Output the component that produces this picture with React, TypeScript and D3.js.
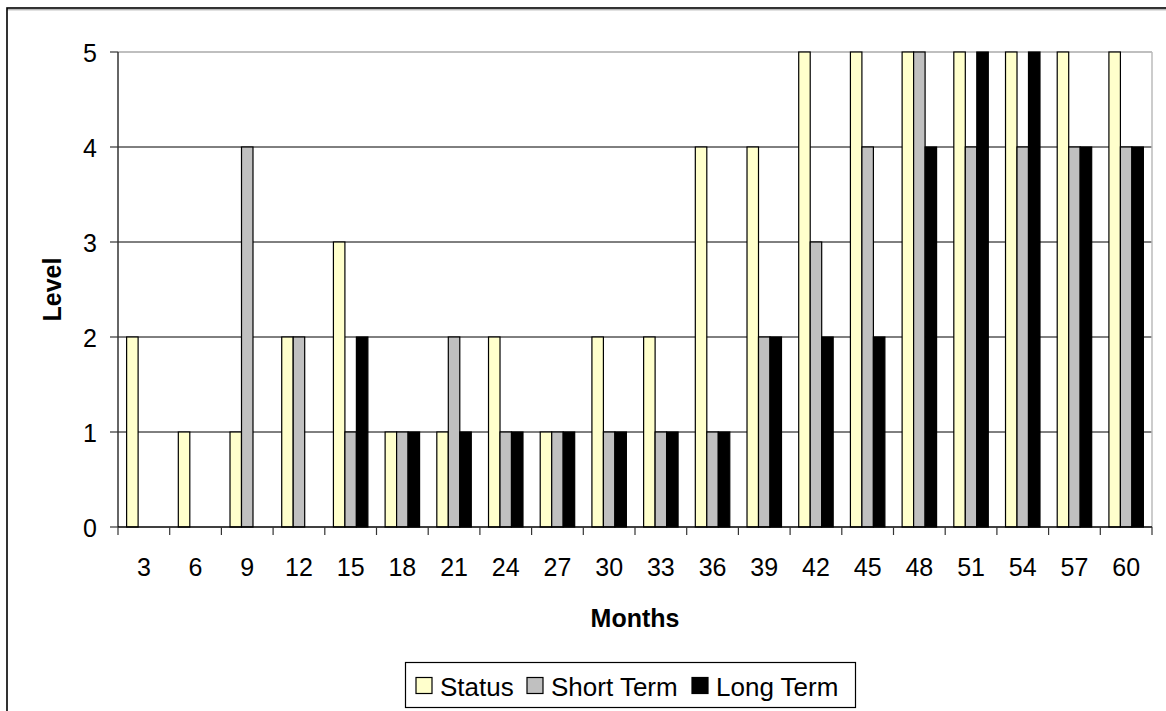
import React from "react";
import * as d3 from "d3";

// Observation months along the x axis
const months: string[] = ["3", "6", "9", "12", "15", "18", "21", "24", "27", "30", "33", "36", "39", "42", "45", "48", "51", "54", "57", "60"];

// Levels recorded for each series at each month
const statusValues: number[] = [2, 1, 1, 2, 3, 1, 1, 2, 1, 2, 2, 4, 4, 5, 5, 5, 5, 5, 5, 5];
const shortTermValues: number[] = [0, 0, 4, 2, 1, 1, 2, 1, 1, 1, 1, 1, 2, 3, 4, 5, 4, 4, 4, 4];
const longTermValues: number[] = [0, 0, 0, 0, 2, 1, 1, 1, 1, 1, 1, 1, 2, 2, 2, 4, 5, 5, 4, 4];

const seriesNames: string[] = ["Status", "Short Term", "Long Term"];
const seriesColors: string[] = ["#FFFFCC", "#C0C0C0", "#000000"];
const yTicks: number[] = [0, 1, 2, 3, 4, 5];

const W = 1166;
const H = 711;
const plot = { left: 118, right: 1152, top: 52, bottom: 527 };
const FONT = "Arial, 'Liberation Sans', Helvetica, sans-serif";

export default function App() {
  const series = [statusValues, shortTermValues, longTermValues];

  const x = d3
    .scaleBand<string>()
    .domain(months)
    .range([plot.left, plot.right])
    .paddingInner(0)
    .paddingOuter(0);

  const band = x.bandwidth();
  // three bars per group with a 150% gap split around them
  const barW = band / 4.5;
  const sub = d3
    .scaleBand<number>()
    .domain([0, 1, 2])
    .range([barW * 0.75, band - barW * 0.75])
    .padding(0);

  const y = d3.scaleLinear().domain([0, 5]).range([plot.bottom, plot.top]);

  const legendSwatchX = [416, 527, 692];

  return (
    <svg
      width={W}
      height={H}
      style={{ position: "absolute", left: 0, top: 0, background: "#fff" }}
      fontFamily={FONT}
    >
      <rect x={0} y={0} width={W} height={H} fill="#fff" />
      {/* chart frame */}
      <line x1={7} y1={9.8} x2={W} y2={9.8} stroke="#999" strokeWidth={1} />
      <rect x={7} y={8} width={W + 20} height={H + 20} fill="none" stroke="#000" strokeWidth={1.6} />

      {/* gridlines */}
      {yTicks.filter((t) => t > 0 && t < 5).map((t) => (
        <line key={"g" + t} x1={plot.left} x2={plot.right} y1={y(t)} y2={y(t)} stroke="#000" strokeWidth={1} />
      ))}
      {/* plot area border (top / right) */}
      <line x1={plot.left} x2={plot.right} y1={y(5)} y2={y(5)} stroke="#aaa" strokeWidth={1.5} />
      <line x1={plot.right} x2={plot.right} y1={plot.top} y2={plot.bottom} stroke="#bbb" strokeWidth={1.5} />

      {/* bars */}
      {series.map((vals, si) =>
        vals.map((v, i) => {
          if (v <= 0) return null;
          const bx = (x(months[i]) as number) + (sub(si) as number);
          return (
            <rect
              key={`b${si}-${i}`}
              x={bx}
              y={y(v)}
              width={sub.bandwidth()}
              height={y(0) - y(v)}
              fill={seriesColors[si]}
              stroke="#000"
              strokeWidth={1.2}
            />
          );
        })
      )}

      {/* y axis */}
      <line x1={plot.left} x2={plot.left} y1={plot.top} y2={plot.bottom} stroke="#333" strokeWidth={1.5} />
      {yTicks.map((t) => (
        <g key={"yt" + t}>
          <line x1={plot.left - 8} x2={plot.left} y1={y(t)} y2={y(t)} stroke="#333" strokeWidth={1.2} />
          <text x={97} y={y(t) + 9.5} textAnchor="end" fontSize={25} fill="#000">
            {t}
          </text>
        </g>
      ))}

      {/* x axis */}
      <line x1={plot.left} x2={plot.right} y1={plot.bottom} y2={plot.bottom} stroke="#000" strokeWidth={1.5} />
      {months.map((m, i) => (
        <line
          key={"xt" + i}
          x1={x(m) as number}
          x2={x(m) as number}
          y1={plot.bottom}
          y2={plot.bottom + 8}
          stroke="#333"
          strokeWidth={1.2}
        />
      ))}
      <line x1={plot.right} x2={plot.right} y1={plot.bottom} y2={plot.bottom + 8} stroke="#333" strokeWidth={1.2} />
      {months.map((m) => (
        <text key={"xl" + m} x={(x(m) as number) + band / 2} y={576} textAnchor="middle" fontSize={25} fill="#000">
          {m}
        </text>
      ))}

      {/* axis titles */}
      <text x={(plot.left + plot.right) / 2} y={627} textAnchor="middle" fontSize={25} fontWeight="bold">
        Months
      </text>
      <text
        transform={`translate(61,${(plot.top + plot.bottom) / 2}) rotate(-90)`}
        textAnchor="middle"
        fontSize={25}
        fontWeight="bold"
      >
        Level
      </text>

      {/* legend */}
      <rect x={405.5} y={662.5} width={450} height={45} fill="#fff" stroke="#000" strokeWidth={1.2} />
      {seriesNames.map((name, i) => (
        <g key={"lg" + i}>
          <rect x={legendSwatchX[i]} y={677.5} width={16} height={16} fill={seriesColors[i]} stroke="#000" strokeWidth={1.2} />
          <text x={legendSwatchX[i] + 24} y={696} fontSize={26} fill="#000">
            {name}
          </text>
        </g>
      ))}
    </svg>
  );
}
